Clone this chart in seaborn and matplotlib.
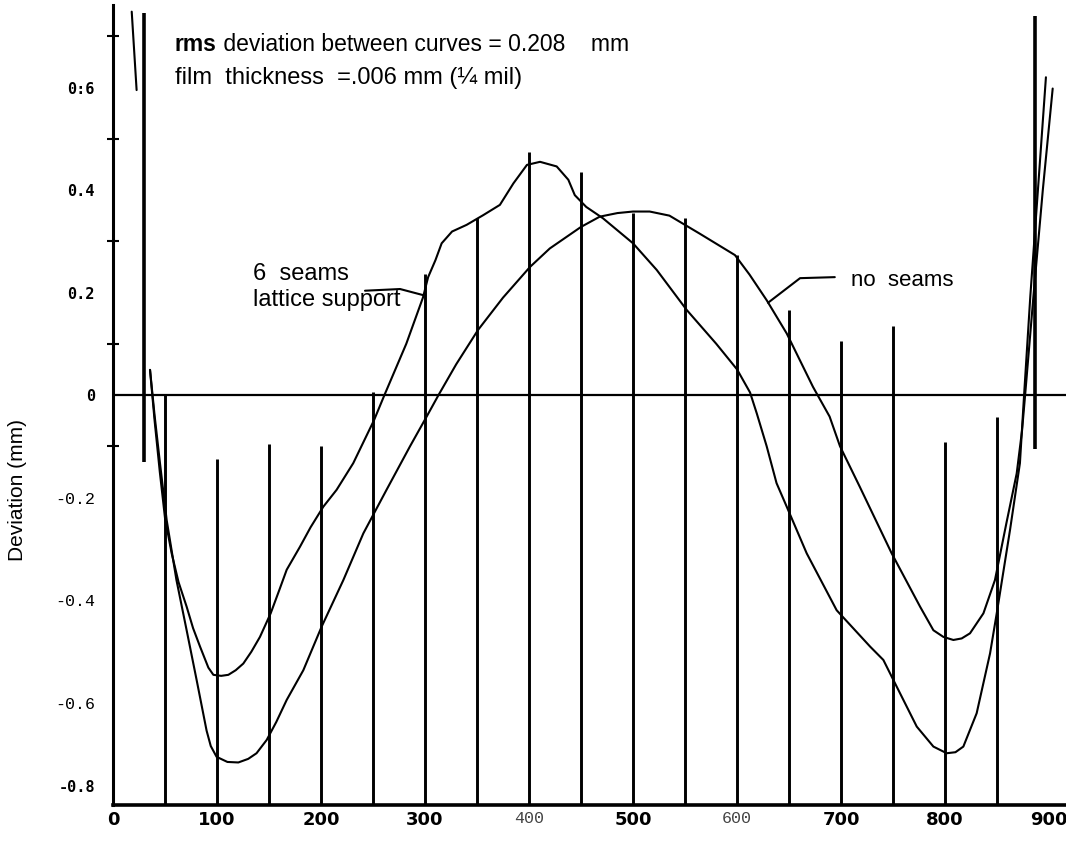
import numpy as np
import pandas as pd
import seaborn as sns
import matplotlib.pyplot as plt
from matplotlib import transforms

seams_x = [35.6, 40, 45, 50, 56.4, 63, 70.8, 77, 83.7, 91.7, 96.5, 104, 110.9, 118, 125.3,
           133, 141.3, 151.6, 160, 167, 179.8, 190, 202.2, 215, 231, 251, 261, 282, 298,
           303, 310, 316, 326, 340, 356, 372, 385, 398, 410.6, 426.6, 437.8, 444, 455,
           471, 500, 522.8, 551.6, 580, 600, 612.5, 619, 628.5, 638, 647.8, 667, 695.8,
           728, 740.7, 750.3, 772.8, 788.8, 801.6, 810, 817.6, 830.4, 843.3, 849.7, 862.5,
           872, 876, 882, 890, 897]
seams_y = [0.049, -0.05, -0.15, -0.24, -0.309, -0.365, -0.413, -0.455, -0.491, -0.532,
           -0.546, -0.548, -0.546, -0.537, -0.524, -0.501, -0.472, -0.426, -0.38, -0.341,
           -0.296, -0.258, -0.218, -0.185, -0.133, -0.049, 0.0, 0.10, 0.19, 0.23, 0.263,
           0.296, 0.319, 0.332, 0.351, 0.371, 0.413, 0.449, 0.455, 0.446, 0.42, 0.39,
           0.367, 0.345, 0.296, 0.244, 0.166, 0.10, 0.05, 0.005, -0.036, -0.10, -0.172,
           -0.218, -0.309, -0.42, -0.491, -0.517, -0.556, -0.647, -0.686, -0.699, -0.697,
           -0.686, -0.621, -0.504, -0.426, -0.263, -0.133, 0.0, 0.193, 0.42, 0.62]

noseam_x = [35.6, 40, 45, 51.6, 61, 70.8, 80.4, 90, 94, 99.6, 110, 120.5, 130, 138, 147.8,
            157, 167, 183, 200.6, 221.5, 240.7, 263, 285.6, 301.6, 313, 330, 351, 375,
            401, 420, 450, 468, 485, 500, 516, 535, 564, 598, 612, 628.5, 647.8, 673, 689,
            699, 718, 748.7, 776, 788.8, 798.4, 808, 816, 824, 836.9, 848, 859, 868.9,
            874, 877, 885, 894, 903.5]
noseam_y = [0.049, -0.04, -0.13, -0.244, -0.361, -0.459, -0.556, -0.655, -0.685, -0.706,
            -0.716, -0.717, -0.71, -0.699, -0.673, -0.638, -0.595, -0.537, -0.452, -0.361,
            -0.27, -0.185, -0.10, -0.042, 0.0, 0.06, 0.127, 0.19, 0.25, 0.286, 0.328,
            0.348, 0.355, 0.358, 0.358, 0.35, 0.315, 0.273, 0.235, 0.185, 0.12, 0.016,
            -0.042, -0.10, -0.179, -0.309, -0.413, -0.459, -0.472, -0.478, -0.475, -0.465,
            -0.426, -0.361, -0.25, -0.153, -0.07, 0.0, 0.193, 0.40, 0.598]

tail_x = [18, 22.7]
tail_y = [0.748, 0.595]

# vertical drop lines from the bottom axis
drop_x = [50, 100, 150, 200, 250, 300, 350, 400, 450, 500, 550, 600, 650, 700, 750, 800, 850]
drop_top = [0.0, -0.124, -0.096, -0.10, 0.006, 0.237, 0.345, 0.475, 0.436, 0.355, 0.345,
            0.273, 0.165, 0.106, 0.135, -0.091, -0.042]
end_x = [30.1, 886.5]
end_top = [0.745, 0.74]
end_bottom = [-0.13, -0.105]

xticks = [0, 100, 200, 300, 400, 500, 600, 700, 800, 900]
xlabels = ["0", "100", "200", "300", "400", "500", "600", "700", "800", "900"]
yticks = [0.6, 0.4, 0.2, 0, -0.2, -0.4, -0.6, -0.8]
ylabels = ["0:6", "0.4", "0.2", "0", "-0.2", "-0.4", "-0.6", "-0.8"]
ymarks = [0.7, 0.6, 0.5, 0.4, 0.3, 0.2, 0.1, -0.1]

sns.set_style("white")
plt.rcParams["font.family"] = ["Liberation Sans", "DejaVu Sans"]
plt.rcParams["text.color"] = "black"
plt.rcParams["axes.labelcolor"] = "black"
plt.rcParams["xtick.color"] = "black"
plt.rcParams["ytick.color"] = "black"

fig = plt.figure(figsize=(10.66, 8.41), dpi=100)
ax = fig.add_axes([113 / 1066, 36 / 841, 953 / 1066, 800 / 841])

df = pd.concat([
    pd.DataFrame({"x": seams_x, "y": seams_y, "curve": "6 seams"}),
    pd.DataFrame({"x": noseam_x, "y": noseam_y, "curve": "no seams"}),
    pd.DataFrame({"x": tail_x, "y": tail_y, "curve": "tail"}),
])
sns.lineplot(data=df, x="x", y="y", units="curve", estimator=None, sort=False,
             color="black", lw=1.5, ax=ax, legend=False)
for ln in ax.get_lines():
    ln.set_solid_joinstyle("round")

ax.vlines(drop_x, -0.8, drop_top, color="black", lw=2.1)
ax.vlines(end_x, end_bottom, end_top, color="black", lw=2.6)
ax.axhline(0, color="black", lw=1.6)

ax.set_xlim(0, 916.3)
ax.set_ylim(-0.8, 0.761)

for s in ["top", "right"]:
    ax.spines[s].set_visible(False)
ax.spines["left"].set_linewidth(2.2)
ax.spines["bottom"].set_linewidth(2.6)
ax.spines["left"].set_color("black")
ax.spines["bottom"].set_color("black")

ax.set_xticks(xticks)
ax.set_xticklabels(xlabels)
ax.set_yticks(yticks)
ax.set_yticklabels(ylabels)
ax.set_yticks(ymarks, minor=True)
ax.tick_params(axis="x", length=0, pad=4)
ax.tick_params(axis="y", which="major", length=0, pad=13)
ax.tick_params(axis="y", which="minor", left=True, direction="inout", length=9, width=1.5)

for lab in ax.get_xticklabels():
    if lab.get_text() in ("400", "600"):
        lab.set_fontfamily("Liberation Mono")
        lab.set_fontsize(12)
        lab.set_color("#444444")
    else:
        lab.set_fontfamily("DejaVu Sans")
        lab.set_fontweight("bold")
        lab.set_fontsize(13)
for lab in ax.get_yticklabels():
    if lab.get_text() in ("-0.2", "-0.4", "-0.6"):
        lab.set_fontfamily("Liberation Mono")
        lab.set_fontsize(12)
    else:
        lab.set_fontfamily("DejaVu Sans Mono")
        lab.set_fontweight("bold")
        lab.set_fontsize(11)
    if lab.get_text() == "-0.8":
        lab.set_transform(lab.get_transform() + transforms.ScaledTranslation(0, 14 / 72, fig.dpi_scale_trans))

ax.set_xlabel("")
ax.set_ylabel("Deviation (mm)", fontsize=15)
ax.yaxis.set_label_coords(-0.09, 0.394)

# annotations
t_rms = ax.text(59.6, 0.683, "rms", fontsize=16.5, fontweight="bold", va="center")
ax.annotate(" deviation between curves = 0.208    mm", xy=(1, 0), xycoords=t_rms,
            fontsize=16.5, va="bottom")
ax.text(59.6, 0.619, "film  thickness  =.006 mm (¼ mil)", fontsize=17, va="center")

ax.text(134.6, 0.236, "6  seams", fontsize=17, va="center")
ax.text(134.6, 0.185, "lattice support", fontsize=17, va="center")
ax.plot([242.3, 276, 298], [0.2035, 0.2068, 0.195], color="black", lw=1.5)

ax.text(709.6, 0.224, "no  seams", fontsize=16, va="center")
ax.plot([694, 660.6, 629.8], [0.230, 0.228, 0.18], color="black", lw=1.5)

plt.savefig("out.png", dpi=100)
